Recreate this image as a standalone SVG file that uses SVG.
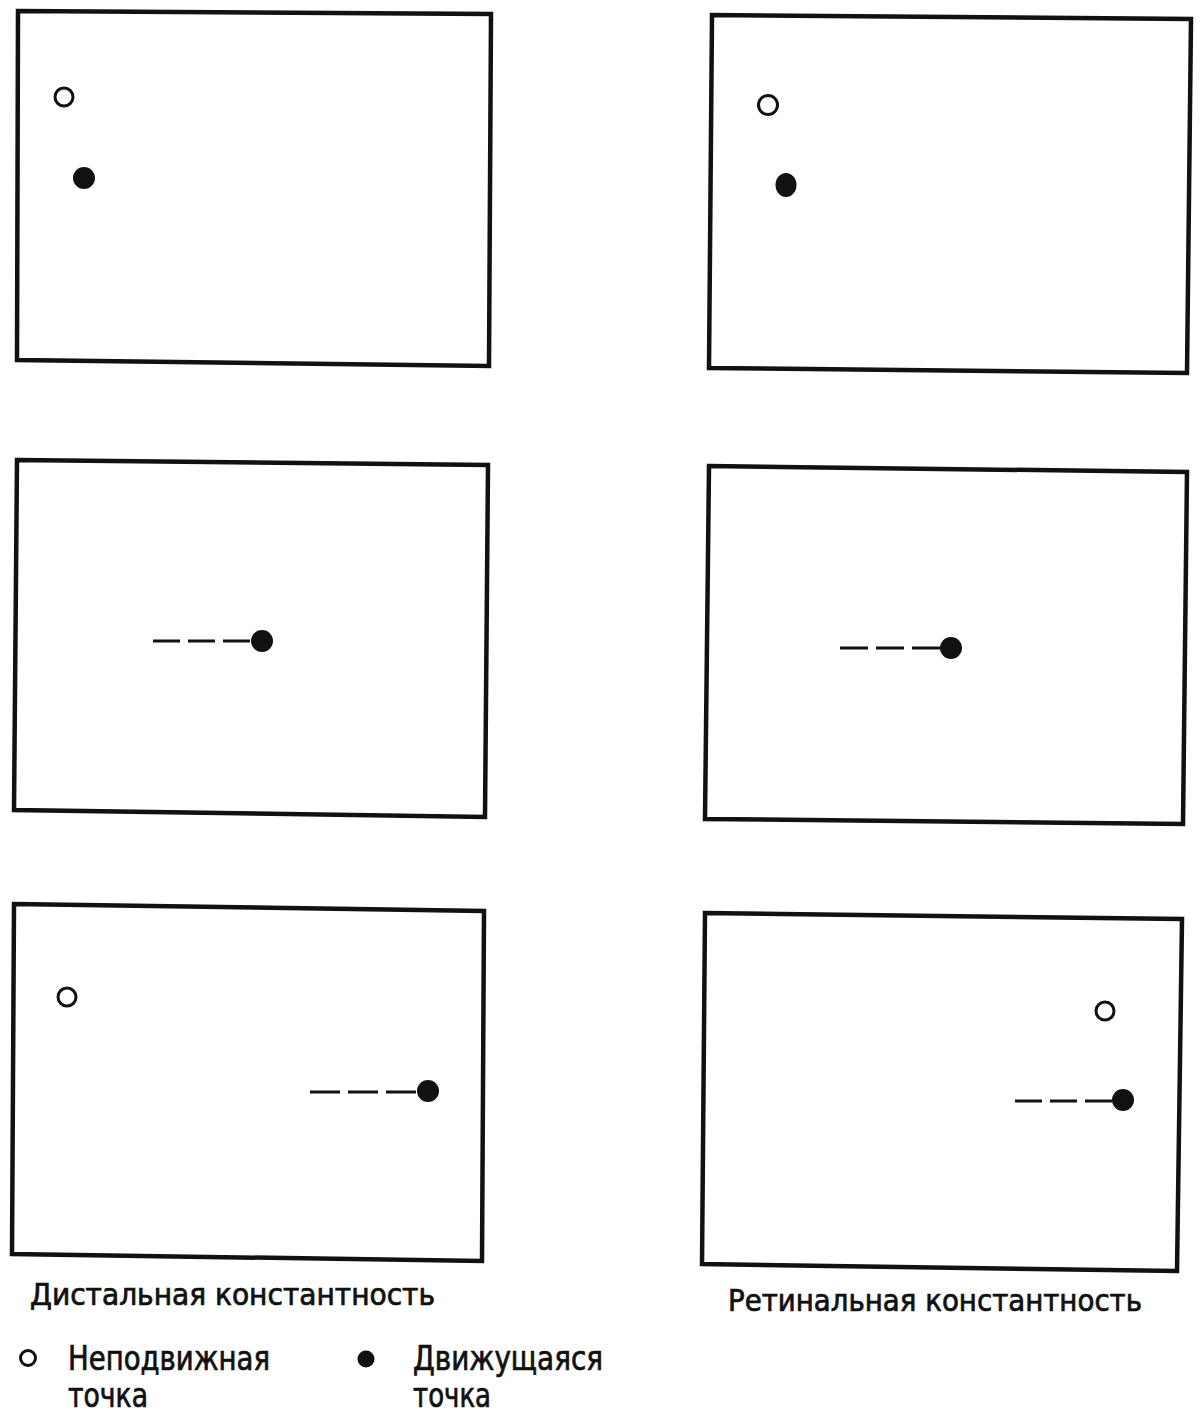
<svg xmlns="http://www.w3.org/2000/svg" width="1203" height="1419" viewBox="0 0 1203 1419">
<style>
.frame{fill:none;stroke:#111;stroke-width:4.5;stroke-linejoin:miter}
.still{fill:#fff;stroke:#111;stroke-width:3}
.moving{fill:#111}
.trail{stroke:#111;stroke-width:3;fill:none}
.t{font-family:"Liberation Sans Narrow","DejaVu Sans Condensed","Liberation Sans",sans-serif;font-weight:normal;fill:#111;stroke:#111;stroke-width:0.7}
.title{font-size:30px}
.leg{font-size:33px}
</style>
<rect width="1203" height="1419" fill="#fff"/>
<g id="panel-distal-1">
<polygon class="frame" points="18,11 491,14 489,366 17,360"/>
<circle class="still" cx="64" cy="97" r="9"/>
<circle class="moving" cx="84" cy="178" r="11"/>
</g>
<g id="panel-retinal-1">
<polygon class="frame" points="712,15 1191,19 1187,373 709,368"/>
<circle class="still" cx="768" cy="105" r="9.5"/>
<ellipse class="moving" cx="786" cy="185" rx="10.5" ry="12"/>
</g>
<g id="panel-distal-2">
<polygon class="frame" points="17,460 488,465 485,817 14,810"/>
<circle class="moving" cx="262" cy="641" r="11"/>
</g>
<g id="panel-retinal-2">
<polygon class="frame" points="709,466 1187,472 1183,824 705,819"/>
<circle class="moving" cx="951" cy="648" r="11"/>
</g>
<g id="panel-distal-3">
<polygon class="frame" points="14,904 484,911 482,1261 12,1254"/>
<circle class="still" cx="67" cy="997" r="9"/>
<circle class="moving" cx="428" cy="1091" r="11"/>
</g>
<g id="panel-retinal-3">
<polygon class="frame" points="705,913 1182,919 1177,1271 702,1264"/>
<circle class="still" cx="1105" cy="1011" r="9"/>
<circle class="moving" cx="1123" cy="1100" r="11"/>
</g>
<g id="connectors">
<line class="trail" x1="153" y1="641" x2="250" y2="641" stroke-dasharray="27 8"/>
<line class="trail" x1="840" y1="648" x2="940" y2="648" stroke-dasharray="28 8"/>
<line class="trail" x1="310" y1="1092" x2="416" y2="1092" stroke-dasharray="30 8"/>
<line class="trail" x1="1015" y1="1101" x2="1112" y2="1101" stroke-dasharray="27 8"/>
</g>
<g id="captions">
<text class="t title" x="30" y="1305" textLength="405" lengthAdjust="spacingAndGlyphs">Дистальная константность</text>
<text class="t title" x="728" y="1311" textLength="414" lengthAdjust="spacingAndGlyphs">Ретинальная константность</text>
</g>
<g id="legend">
<circle class="still" cx="28" cy="1358" r="7.5"/>
<text class="t leg" x="68" y="1370" textLength="202" lengthAdjust="spacingAndGlyphs">Неподвижная</text>
<text class="t leg" x="68" y="1407" textLength="80" lengthAdjust="spacingAndGlyphs">точка</text>
<circle class="moving" cx="366" cy="1359" r="8.5"/>
<text class="t leg" x="413" y="1370" textLength="190" lengthAdjust="spacingAndGlyphs">Движущаяся</text>
<text class="t leg" x="413" y="1407" textLength="78" lengthAdjust="spacingAndGlyphs">точка</text>
</g>
</svg>
